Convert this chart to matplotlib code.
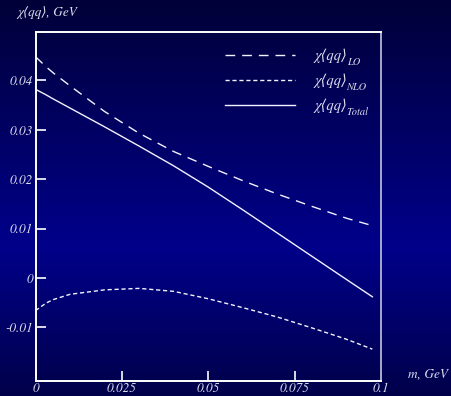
import numpy as np
import matplotlib
matplotlib.use("Agg")
import matplotlib.pyplot as plt
from matplotlib.colors import LinearSegmentedColormap

# ---- data ----
m = [0.0, 0.003, 0.005, 0.01, 0.02, 0.03, 0.04, 0.05, 0.06, 0.07, 0.08, 0.09, 0.0975]
chi_lo = [0.0448, 0.0428, 0.0416, 0.0389, 0.0337, 0.0293, 0.0256, 0.0226, 0.0197, 0.0170, 0.0145, 0.0121, 0.0106]
chi_nlo = [-0.0066, -0.0051, -0.0044, -0.0033, -0.0024, -0.0021, -0.0027, -0.0042, -0.0060, -0.0079, -0.0101, -0.0124, -0.0144]
chi_total = [0.0382, 0.0371, 0.0363, 0.0344, 0.0306, 0.0267, 0.0227, 0.0184, 0.0138, 0.0091, 0.0044, -0.0003, -0.0038]

xticks = [0, 0.025, 0.05, 0.075, 0.1]
xticklabels = ["0", "0.025", "0.05", "0.075", "0.1"]
yticks = [-0.01, 0, 0.01, 0.02, 0.03, 0.04]
yticklabels = ["-0.01", "0", "0.01", "0.02", "0.03", "0.04"]

label_main = "χ⟨qq⟩"
label_subs = ["LO", "NLO", "Total"]

FAM = ["STIXGeneral", "DejaVu Sans"]
plt.rcParams["font.family"] = FAM
plt.rcParams["font.style"] = "italic"

W, H = 451, 396
fig = plt.figure(figsize=(W / 100, H / 100), dpi=100)

# background gradient
bg = fig.add_axes([0, 0, 1, 1], zorder=-10)
cmap = LinearSegmentedColormap.from_list(
    "bg", [(0.0, "#000038"), (0.62, "#00008a"), (1.0, "#00004a")])
grad = np.linspace(0, 1, 256).reshape(-1, 1)
bg.imshow(grad, aspect="auto", cmap=cmap, extent=[0, 1, 0, 1], origin="upper")
bg.set_axis_off()

ax = fig.add_axes([35.5 / W, 1 - 381 / H, (381 - 35.5) / W, (381 - 32) / H])
ax.set_facecolor("none")
line_col = "#f2f2ff"
ax.plot(m, chi_lo, color=line_col, lw=1.0, dashes=(7, 5), label=label_main)
ax.plot(m, chi_nlo, color=line_col, lw=1.0, dashes=(3, 2), label=label_main)
ax.plot(m, chi_total, color=line_col, lw=1.0, label=label_main)

ax.set_xlim(0, 0.1)
ax.set_ylim(-0.02085, 0.0498)
ax.set_xticks(xticks)
ax.set_xticklabels(xticklabels)
ax.set_yticks(yticks)
ax.set_yticklabels(yticklabels)

tick_col = "#dcdcee"
ax.tick_params(direction="in", length=7, width=1.2, colors="white",
               labelcolor=tick_col, labelsize=9.5, top=False, right=False)
ax.tick_params(axis="y", pad=2)
ax.tick_params(axis="x", pad=1)
for s in ["left", "bottom", "top"]:
    ax.spines[s].set_color("white")
    ax.spines[s].set_linewidth(1.4)
ax.spines["right"].set_color("#a8a8cc")
ax.spines["right"].set_linewidth(1.4)

leg = ax.legend(loc="upper right", frameon=False, fontsize=10.5,
                handlelength=4.8, labelcolor=tick_col,
                bbox_to_anchor=(0.94, 0.99), labelspacing=0.72, handletextpad=1.3)

# subscripts appended to legend labels
fig.canvas.draw()
inv = fig.transFigure.inverted()
for t, sub in zip(leg.get_texts(), label_subs):
    bb = t.get_window_extent()
    x1, y0 = inv.transform((bb.x1, bb.y0))
    fig.text(x1 - 0.5 / W, y0 + 1.0 / H, sub, color=tick_col, fontsize=7.5,
             ha="left", va="center")

fig.text(17 / W, 1 - 13 / H, "χ⟨qq⟩, GeV", color=tick_col,
         fontsize=9.5, va="center", ha="left")
fig.text(408 / W, 1 - 375 / H, "m, GeV", color=tick_col,
         fontsize=9.5, va="center", ha="left")

fig.savefig("out.png", dpi=100)
